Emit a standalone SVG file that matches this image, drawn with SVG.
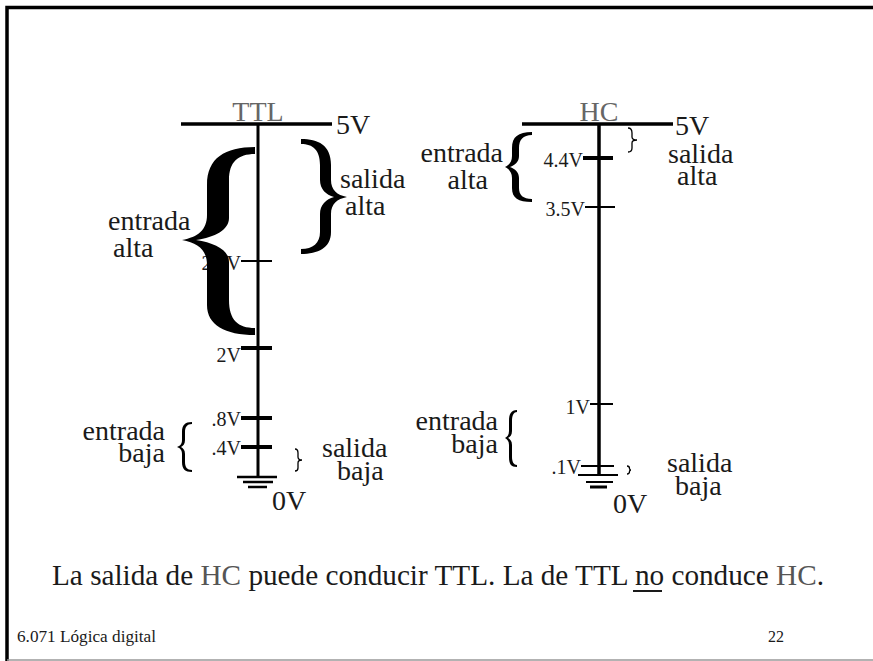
<svg xmlns="http://www.w3.org/2000/svg" width="873" height="661" viewBox="0 0 873 661">
<style>
text{font-family:"Liberation Serif","Times New Roman",serif;fill:#1a1a1a}
.lbl{font-size:28px}
.sm{font-size:20px;text-anchor:end}
.ttl{font-size:28px;fill:#666;text-anchor:middle}
.ln{stroke:#000;fill:none}
.br{fill:#000;stroke:none}
.tb{fill:none;stroke:#000;stroke-width:1.3}
</style>
<rect width="873" height="661" fill="#fff"/>
<g id="frame">
<path d="M7,661 L7,7.5 L873,7.5" fill="none" stroke="#000" stroke-width="3.5"/>
<line x1="7" y1="660" x2="873" y2="660" stroke="#999" stroke-width="1.5"/>
</g>
<g id="connectors">
<line class="ln" x1="181" y1="124" x2="332" y2="124" stroke-width="3.5"/>
<line class="ln" x1="258" y1="123" x2="258" y2="477" stroke-width="3"/>
<line class="ln" x1="522" y1="124" x2="673" y2="124" stroke-width="3.5"/>
<line class="ln" x1="599" y1="123" x2="599" y2="475" stroke-width="3.5"/>
</g>
<g id="ttl">
<text class="ttl" x="258" y="121">TTL</text>
<text class="lbl" x="336" y="134" fill="#333">5V</text>
<line class="ln" x1="241" y1="261" x2="272" y2="261" stroke-width="2"/>
<text class="sm" x="241" y="270">2.4V</text>
<line class="ln" x1="241" y1="348" x2="272" y2="348" stroke-width="4"/>
<text class="sm" x="241" y="362">2V</text>
<line class="ln" x1="241" y1="418" x2="272" y2="418" stroke-width="4"/>
<text class="sm" x="241" y="426">.8V</text>
<line class="ln" x1="241" y1="447" x2="272" y2="447" stroke-width="4"/>
<text class="sm" x="241" y="455">.4V</text>
<line class="ln" x1="237" y1="477" x2="277" y2="477" stroke-width="2.5"/>
<line class="ln" x1="243" y1="482" x2="273" y2="482" stroke-width="2.5"/>
<line class="ln" x1="248" y1="487" x2="267" y2="487" stroke-width="2.5"/>
<text class="lbl" x="272" y="510">0V</text>
</g>
<g id="ttl-entrada-alta">
<path class="br" d="M255,147 C225,147 207,158 207,185 L207,215 C207,230 198,237 182,240 C198,243 207,250 207,265 L207,305 C207,325 225,335 255,335 L255,328 C238,328 229,320 229,300 L229,262 C229,250 215,243 196,240 C215,237 229,230 229,218 L229,180 C229,162 238,154 255,154 Z"/>
<text class="lbl" x="108" y="230">entrada</text>
<text class="lbl" x="113" y="257">alta</text>
</g>
<g id="ttl-salida-alta">
<path class="br" d="M301,139 C318,139 331,145 331,165 L331,180 C331,190 337,195 347,197 C337,199 331,204 331,214 L331,232 C331,248 318,254 301,254 L301,249 C313,249 320,243 320,232 L320,214 C320,205 326,199 334,197 C326,195 320,189 320,180 L320,165 C320,150 313,144 301,144 Z"/>
<text class="lbl" x="340" y="188">salida</text>
<text class="lbl" x="345" y="215">alta</text>
</g>
<g id="ttl-entrada-baja">
<path class="br" d="M192,422 C185,422 182,425 182,432 L182,440 C182,444 180,446 177,447 C180,448 182,450 182,454 L182,462 C182,469 185,472 192,472 L192,470 C187,470 185,467 185,462 L185,454 C185,450 183,448 181,447 C183,446 185,444 185,440 L185,432 C185,427 187,424 192,424 Z"/>
<text class="lbl" x="165" y="440" text-anchor="end">entrada</text>
<text class="lbl" x="165" y="462" text-anchor="end">baja</text>
</g>
<g id="ttl-salida-baja">
<path class="tb" d="M295,449 Q298,449 298,453 L298,457 Q298,460 302,460 Q298,460 298,463 L298,468 Q298,471 295,471"/>
<text class="lbl" x="322" y="457">salida</text>
<text class="lbl" x="337" y="480">baja</text>
</g>
<g id="hc">
<text class="ttl" x="599" y="121">HC</text>
<text class="lbl" x="675" y="135" fill="#333">5V</text>
<line class="ln" x1="583" y1="158" x2="613" y2="158" stroke-width="4"/>
<text class="sm" x="583" y="167">4.4V</text>
<line class="ln" x1="585" y1="207" x2="615" y2="207" stroke-width="2"/>
<text class="sm" x="585" y="216">3.5V</text>
<line class="ln" x1="590" y1="404" x2="613" y2="404" stroke-width="2"/>
<text class="sm" x="590" y="414">1V</text>
<line class="ln" x1="581" y1="466" x2="614" y2="466" stroke-width="2"/>
<text class="sm" x="581" y="474">.1V</text>
<line class="ln" x1="578" y1="475" x2="618" y2="475" stroke-width="2"/>
<line class="ln" x1="586" y1="482" x2="613" y2="482" stroke-width="2"/>
<line class="ln" x1="590" y1="487" x2="607" y2="487" stroke-width="3"/>
<text class="lbl" x="613" y="513">0V</text>
</g>
<g id="hc-entrada-alta">
<path class="br" d="M532,132 C518,132 512,137 512,148 L512,156 C512,162 509,165 505,167 C509,169 512,172 512,178 L512,188 C512,198 518,202 532,202 L532,199 C523,199 519,195 519,188 L519,178 C519,172 515,169 510,167 C515,165 519,162 519,156 L519,148 C519,140 523,135 532,135 Z"/>
<text class="lbl" x="503" y="162" text-anchor="end">entrada</text>
<text class="lbl" x="488" y="189" text-anchor="end">alta</text>
</g>
<g id="hc-salida-alta">
<path class="tb" d="M628,128 Q632,128 632,133 L632,137 Q632,140 637,140 Q632,140 632,143 L632,148 Q632,152 628,152"/>
<text class="lbl" x="668" y="163">salida</text>
<text class="lbl" x="677" y="185">alta</text>
</g>
<g id="hc-entrada-baja">
<path class="br" d="M517,410 C511,410 509,414 509,421 L509,431 C509,435 507,437 505,438 C507,439 509,441 509,445 L509,457 C509,464 511,467 517,467 L517,465 C514,465 512,462 512,457 L512,445 C512,441 510,439 508,438 C510,437 512,435 512,431 L512,421 C512,415 514,412 517,412 Z"/>
<text class="lbl" x="498" y="430" text-anchor="end">entrada</text>
<text class="lbl" x="498" y="453" text-anchor="end">baja</text>
</g>
<g id="hc-salida-baja">
<path class="tb" d="M627,466 Q629.5,466 629.5,468.5 Q629.5,470 631,470 Q629.5,470 629.5,471.5 Q629.5,474 627,474" stroke-width="1"/>
<text class="lbl" x="667" y="472">salida</text>
<text class="lbl" x="675" y="495">baja</text>
</g>
<g id="caption">
<text x="52" y="585" font-size="29" textLength="772" lengthAdjust="spacingAndGlyphs">La salida de <tspan fill="#555">HC</tspan> puede conducir TTL. La de TTL no conduce <tspan fill="#555">HC</tspan>.</text>
<line x1="633" y1="591" x2="662" y2="591" stroke="#1a1a1a" stroke-width="2"/>
</g>
<g id="footer">
<text x="17" y="642" font-size="16" textLength="139" lengthAdjust="spacingAndGlyphs">6.071 Lógica digital</text>
<text x="768" y="642" font-size="16">22</text>
</g>
</svg>
